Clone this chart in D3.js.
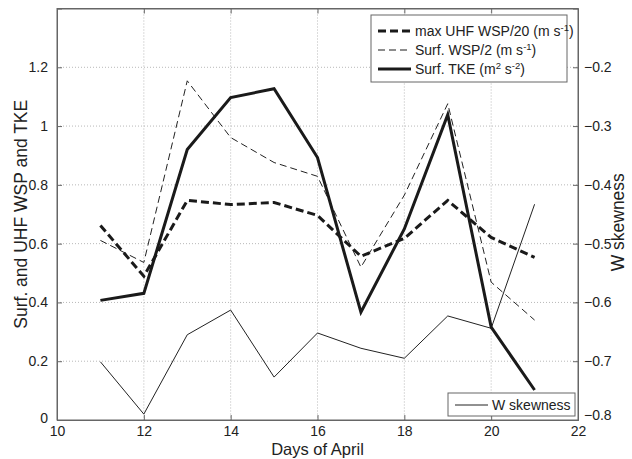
<!DOCTYPE html>
<html><head><meta charset="utf-8">
<script src="https://cdn.jsdelivr.net/npm/d3@7"></script>
<style>
body{margin:0;background:#fff;}
text{font-family:"Liberation Sans",Arial,sans-serif;fill:#222;}
</style></head><body>
<svg id="c" width="632" height="459"></svg>
<script>
const days = [11,12,13,14,15,16,17,18,19,20,21];
const maxUhfWsp20 = [0.662,0.489,0.747,0.733,0.740,0.696,0.557,0.618,0.747,0.621,0.553];
const surfWsp2   = [0.611,0.536,1.154,0.961,0.876,0.829,0.520,0.765,1.076,0.469,0.340];
const surfTke    = [0.407,0.431,0.920,1.097,1.127,0.893,0.367,0.650,1.039,0.316,0.102];
const wSkewness  = [-0.701,-0.790,-0.655,-0.613,-0.727,-0.652,-0.678,-0.695,-0.623,-0.644,-0.433];
const xTicks = [10,12,14,16,18,20,22];
const yLeftTicks = [0,0.2,0.4,0.6,0.8,1,1.2];
const yRightTicks = [-0.8,-0.7,-0.6,-0.5,-0.4,-0.3,-0.2];
const legendLabels = ["max UHF WSP/20 (m s", "Surf. WSP/2 (m s", "Surf. TKE (m"];

const svg = d3.select("#c");
const L=57, R=578, T=8.5, B=420;
const x = d3.scaleLinear().domain([10,22]).range([L,R]);
const yL = d3.scaleLinear().domain([0,1.4]).range([B,T]);
const yR = d3.scaleLinear().domain([-0.8,-0.1]).range([B,T]);

// grid
const g = svg.append("g");
g.selectAll(".gx").data(xTicks.slice(1,-1)).join("line")
  .attr("x1",d=>x(d)).attr("x2",d=>x(d)).attr("y1",T).attr("y2",B)
  .attr("stroke","#b8b8b8").attr("stroke-width",1).attr("stroke-dasharray","1,2");
g.selectAll(".gy").data(yLeftTicks.slice(1)).join("line")
  .attr("x1",L).attr("x2",R).attr("y1",d=>yL(d)).attr("y2",d=>yL(d))
  .attr("stroke","#b8b8b8").attr("stroke-width",1).attr("stroke-dasharray","1,2");

// axes
const fmt = d=> (d===0?"0":String(d));
const ax = svg.append("g").attr("transform",`translate(0,${B})`)
  .call(d3.axisBottom(x).tickValues(xTicks).tickSize(-5).tickFormat(d=>d));
const ayl = svg.append("g").attr("transform",`translate(${L},0)`)
  .call(d3.axisLeft(yL).tickValues(yLeftTicks).tickSize(-5).tickPadding(9).tickFormat(fmt));
const ayr = svg.append("g").attr("transform",`translate(${R},0)`)
  .call(d3.axisRight(yR).tickValues(yRightTicks).tickSize(-5).tickPadding(6).tickFormat(d=>d3.format(".1f")(d)));
const axt = svg.append("g").attr("transform",`translate(0,${T})`)
  .call(d3.axisTop(x).tickValues(xTicks).tickSize(-5).tickFormat(""));
[ax,ayl,ayr,axt].forEach(a=>{
  a.select(".domain").attr("stroke","#666");
  a.selectAll(".tick line").attr("stroke","#666");
  a.selectAll("text").attr("font-size",14).attr("fill","#222").style("font-family","Liberation Sans, Arial, sans-serif");
});
ax.selectAll(".tick text").attr("dy",null).attr("y",16);
ayl.selectAll(".tick text").filter(d=>d===0).attr("dy","0.15em");
ayr.selectAll(".tick text").filter(d=>d===-0.8).attr("dy","-0.05em");
svg.append("rect").attr("x",L).attr("y",T).attr("width",R-L).attr("height",B-T)
  .attr("fill","none").attr("stroke","#666").attr("stroke-width",1);

// lines
const lineL = vals => d3.line().x((d,i)=>x(days[i])).y(d=>yL(d))(vals);
const lineR = vals => d3.line().x((d,i)=>x(days[i])).y(d=>yR(d))(vals);
svg.append("path").attr("d",lineR(wSkewness)).attr("fill","none").attr("stroke","#222").attr("stroke-width",1);
svg.append("path").attr("d",lineL(surfWsp2)).attr("fill","none").attr("stroke","#222").attr("stroke-width",1).attr("stroke-dasharray","7,4");
svg.append("path").attr("d",lineL(maxUhfWsp20)).attr("fill","none").attr("stroke","#1a1a1a").attr("stroke-width",3).attr("stroke-dasharray","8,4");
svg.append("path").attr("d",lineL(surfTke)).attr("fill","none").attr("stroke","#1a1a1a").attr("stroke-width",3).attr("stroke-linejoin","miter");

// legend top
const lg = svg.append("g");
lg.append("rect").attr("x",371).attr("y",15).attr("width",196).attr("height",67)
  .attr("fill","#fff").attr("stroke","#666");
const styles = [{w:3,da:"8,4"},{w:1,da:"7,4"},{w:3,da:null}];
const sups = ["-1","-1","2"];
const rowsY = [31,50,69];
legendLabels.forEach((lab,i)=>{
  const ln = lg.append("line").attr("x1",378).attr("x2",411).attr("y1",rowsY[i]).attr("y2",rowsY[i])
    .attr("stroke","#1a1a1a").attr("stroke-width",styles[i].w);
  if(styles[i].da) ln.attr("stroke-dasharray",styles[i].da);
  const t = lg.append("text").attr("x",415).attr("y",rowsY[i]+5).attr("font-size",14);
  t.append("tspan").text(lab);
  if(i<2){
    t.append("tspan").attr("dy",-5).attr("font-size",9.5).text(sups[i]);
    t.append("tspan").attr("dy",5).text(")");
  } else {
    t.append("tspan").attr("dy",-5).attr("font-size",9.5).text("2");
    t.append("tspan").attr("dy",5).text(" s");
    t.append("tspan").attr("dy",-5).attr("font-size",9.5).text("-2");
    t.append("tspan").attr("dy",5).text(")");
  }
});
// legend bottom
const lb = svg.append("g");
lb.append("rect").attr("x",448).attr("y",393).attr("width",127).attr("height",23)
  .attr("fill","#fff").attr("stroke","#666");
lb.append("line").attr("x1",455).attr("x2",488).attr("y1",405).attr("y2",405).attr("stroke","#222").attr("stroke-width",1);
lb.append("text").attr("x",492).attr("y",410).attr("font-size",14).text("W skewness");

// titles
svg.append("text").attr("x",(L+R)/2).attr("y",455).attr("text-anchor","middle").attr("font-size",16.5).text("Days of April");
svg.append("text").attr("transform",`translate(27,${(T+B)/2}) rotate(-90)`).attr("text-anchor","middle").attr("font-size",17.5).text("Surf. and UHF WSP and TKE");
svg.append("text").attr("transform",`translate(624,${(T+B)/2+8}) rotate(-90)`).attr("text-anchor","middle").attr("font-size",17.5).text("W skewness");
</script></body></html>
